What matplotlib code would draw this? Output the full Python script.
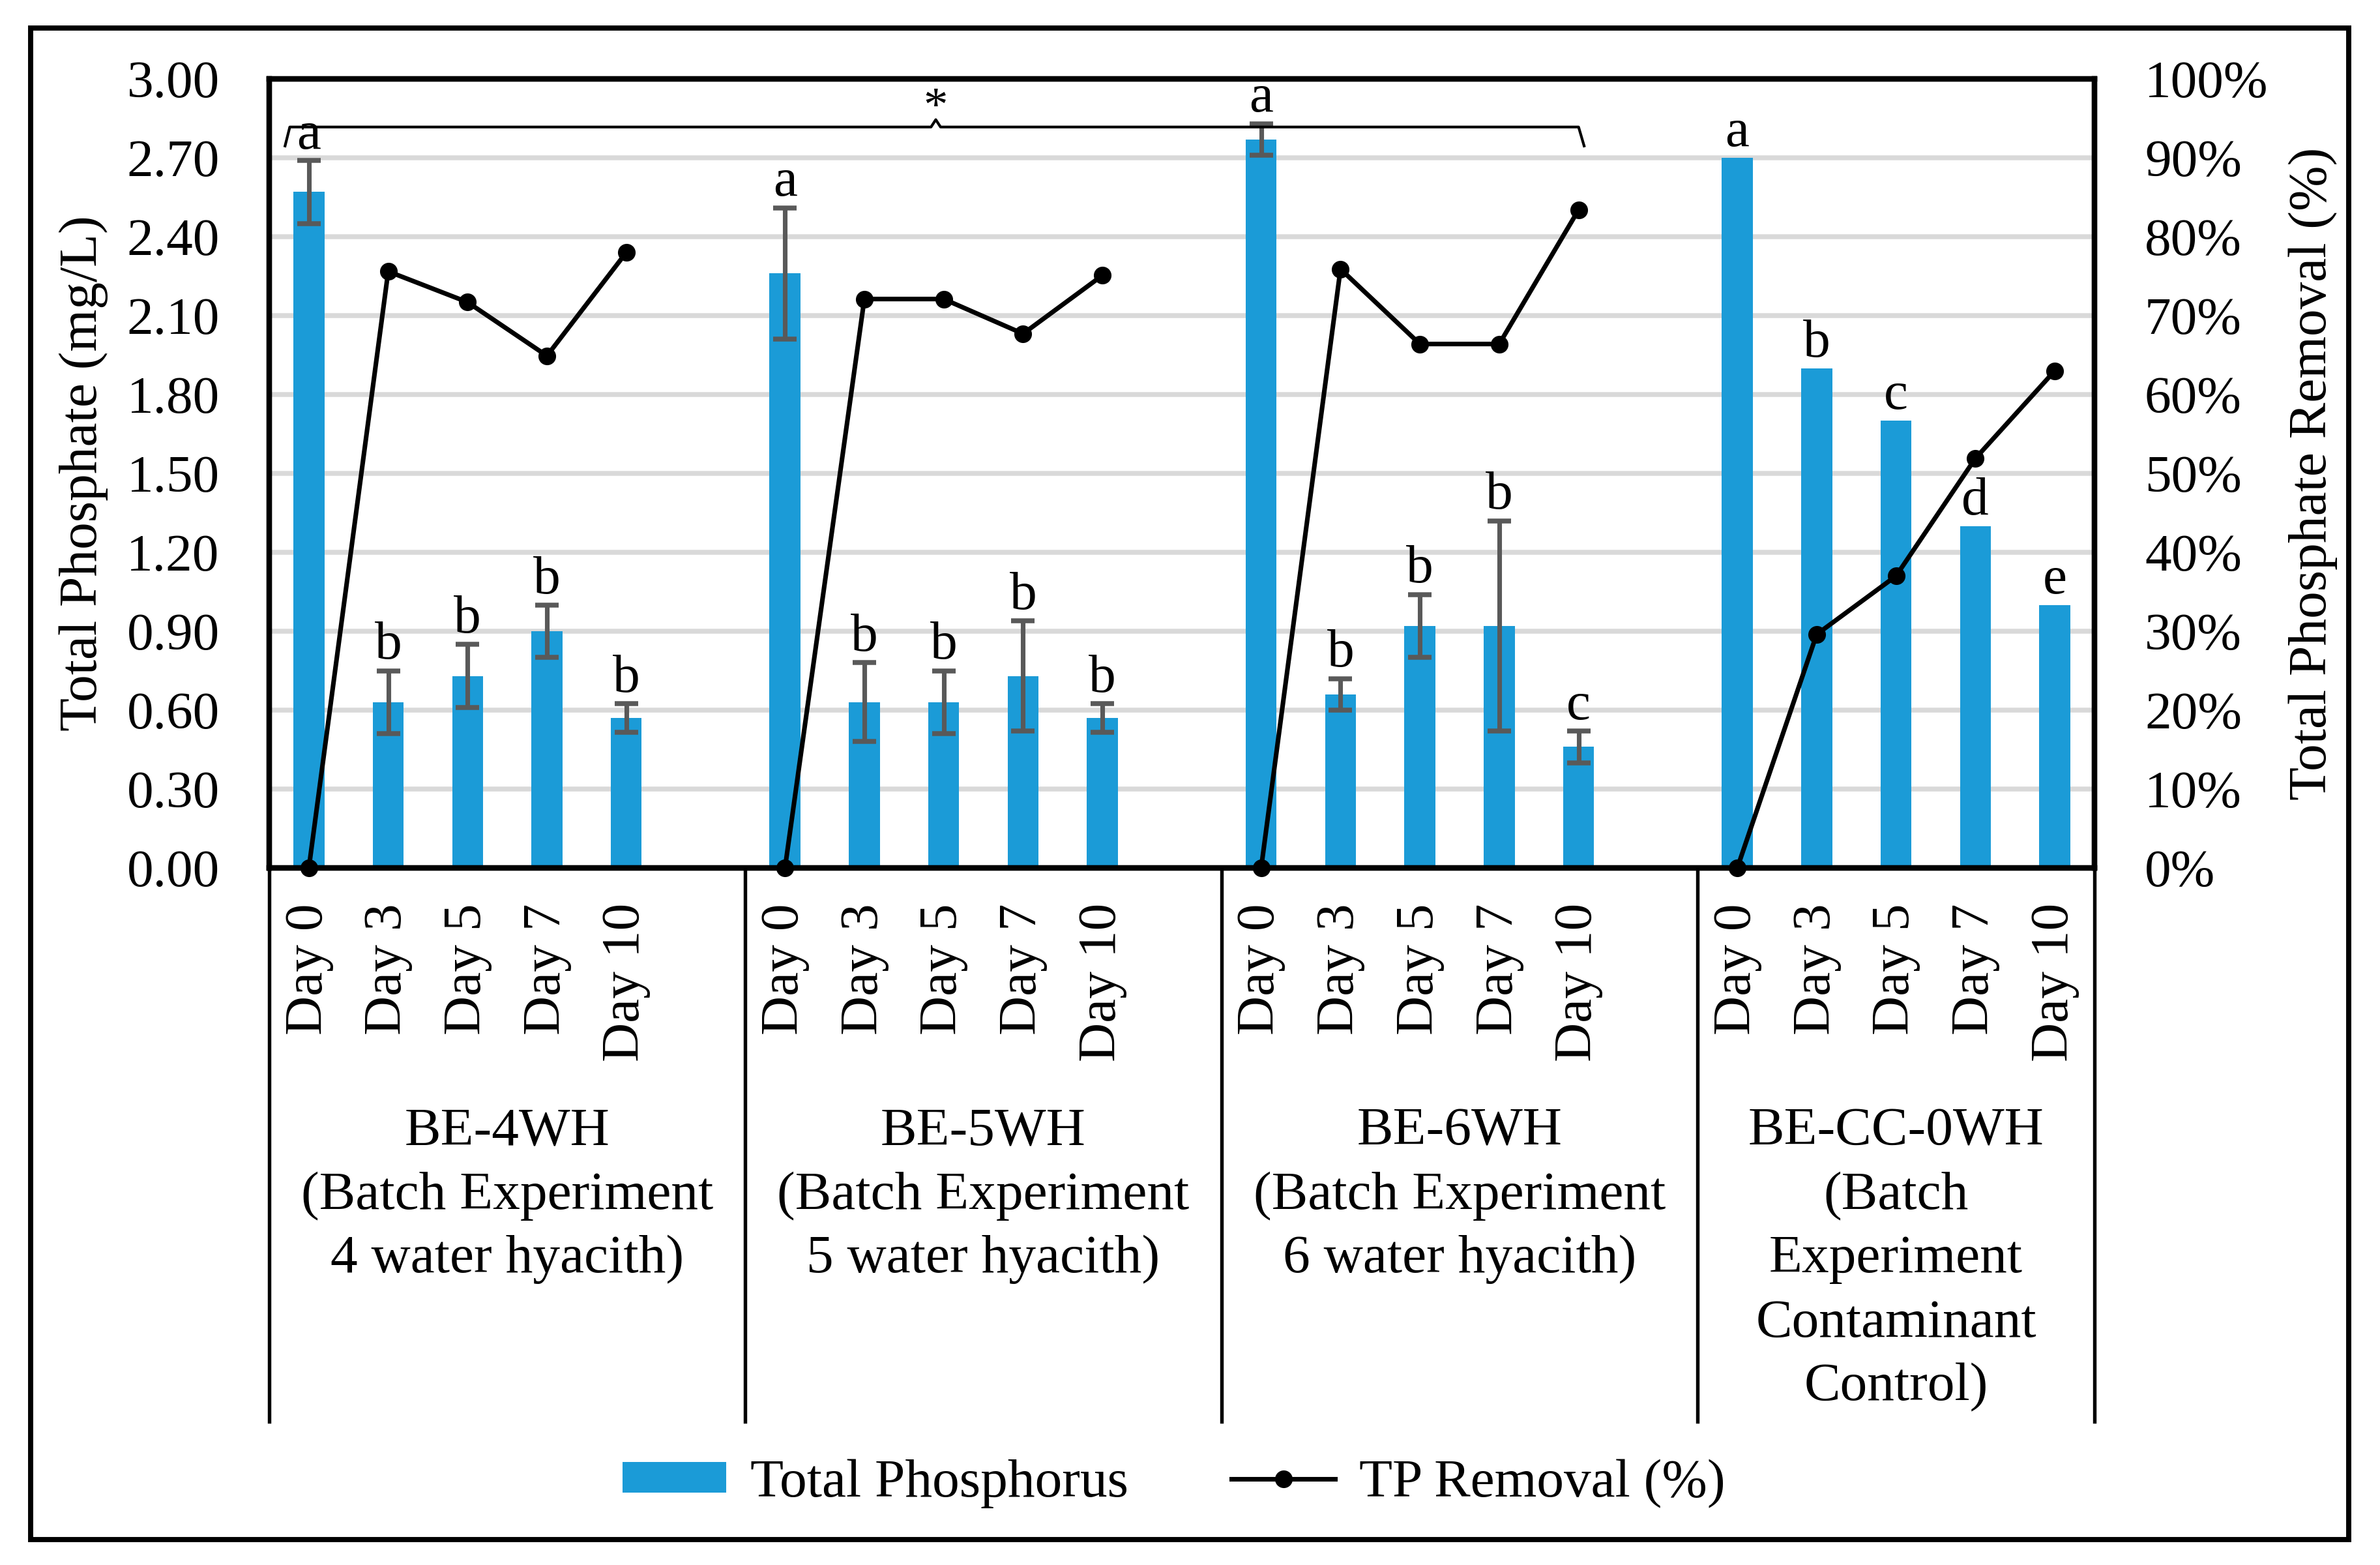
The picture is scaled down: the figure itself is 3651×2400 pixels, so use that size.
import matplotlib
matplotlib.use('Agg')
import matplotlib.pyplot as plt
from matplotlib.patches import Rectangle, Patch
from matplotlib.lines import Line2D
import numpy as np

plt.rcParams['font.family'] = ['Liberation Serif', 'DejaVu Serif']

# ---------------- data ----------------
days = ["Day 0", "Day 3", "Day 5", "Day 7", "Day 10"]
group_labels = [
    ["BE-4WH", "(Batch Experiment", "4 water hyacith)"],
    ["BE-5WH", "(Batch Experiment", "5 water hyacith)"],
    ["BE-6WH", "(Batch Experiment", "6 water hyacith)"],
    ["BE-CC-0WH", "(Batch", "Experiment", "Contaminant", "Control)"],
]
tp_be4 = [2.57, 0.63, 0.73, 0.90, 0.57]
tp_be5 = [2.26, 0.63, 0.63, 0.73, 0.57]
tp_be6 = [2.77, 0.66, 0.92, 0.92, 0.46]
tp_cc = [2.70, 1.90, 1.70, 1.30, 1.00]
err_be4 = [0.12, 0.12, 0.12, 0.10, 0.055]
err_be5 = [0.25, 0.15, 0.12, 0.21, 0.055]
err_be6 = [0.06, 0.06, 0.12, 0.40, 0.06]
err_cc = [0, 0, 0, 0, 0]
rem_be4 = [0, 75.6, 71.7, 64.9, 78.0]
rem_be5 = [0, 72.1, 72.1, 67.7, 75.1]
rem_be6 = [0, 75.9, 66.4, 66.4, 83.4]
rem_cc = [0, 29.6, 37.0, 51.9, 63.0]
let_be4 = ["a", "b", "b", "b", "b"]
let_be5 = ["a", "b", "b", "b", "b"]
let_be6 = ["a", "b", "b", "b", "c"]
let_cc = ["a", "b", "c", "d", "e"]

tp_values = [tp_be4, tp_be5, tp_be6, tp_cc]
tp_errors = [err_be4, err_be5, err_be6, err_cc]
removal = [rem_be4, rem_be5, rem_be6, rem_cc]
letters = [let_be4, let_be5, let_be6, let_cc]

yticks_left = [0.00, 0.30, 0.60, 0.90, 1.20, 1.50, 1.80, 2.10, 2.40, 2.70, 3.00]
yticks_right = [0.0, 0.1, 0.2, 0.3, 0.4, 0.5, 0.6, 0.7, 0.8, 0.9, 1.0]

# ---------------- style ----------------
BLUE = '#1B9BD7'
ERR = '#595959'
FS = 20

fig = plt.figure(figsize=(12.17, 8.0), dpi=300)
ax = fig.add_axes([0.1131, 0.4454, 0.8800 - 0.1131, 0.9496 - 0.4454])
ax2 = ax.twinx()

slot = 6  # 5 days + 1 blank category per group
all_x, all_lab = [], []
for g in range(4):
    x = np.arange(len(days)) + slot * g
    vals = np.array(tp_values[g])
    errs = np.array(tp_errors[g])
    ax.bar(x, vals, width=0.39, color=BLUE, zorder=2)
    if np.any(errs > 0):
        ax.errorbar(x, vals, yerr=errs, fmt='none', ecolor=ERR,
                    elinewidth=1.7, capsize=4.4, capthick=1.8, zorder=3)
    for xi, v, e, l in zip(x, vals, errs, letters[g]):
        ax.text(xi, v + e + 0.045, l, ha='center', va='baseline',
                fontsize=FS, zorder=6)
    ax2.plot(x, np.array(removal[g]) / 100.0, color='black', lw=1.7,
             marker='o', ms=5.5, clip_on=False, zorder=5)
    all_x.extend(x)
    all_lab.extend(days)

ax.set_xlim(-0.5, 22.5)
ax.set_ylim(0, 3.0)
ax.set_yticks(yticks_left)
ax.set_yticklabels([f"{v:.2f}" for v in yticks_left])
ax.set_xticks(all_x)
ax.set_xticklabels(all_lab, rotation=90)
ax.yaxis.grid(True, color='#d9d9d9', lw=1.8)
ax.set_axisbelow(True)
ax.tick_params(axis='y', length=0, pad=18.3, labelsize=19.5)
ax.tick_params(axis='x', length=0, pad=13, labelsize=FS)

ax2.set_ylim(0, 1.0)
ax2.set_yticks(yticks_right)
ax2.set_yticklabels([f"{int(round(v * 100))}%" for v in yticks_right])
ax2.tick_params(axis='y', length=0, pad=18.5, labelsize=19.5)

for a in (ax, ax2):
    for s in a.spines.values():
        s.set_linewidth(2.0)
        s.set_color('black')

# significance bracket
bx = [-0.30, -0.24, 7.84, 7.90, 7.96, 16.0, 16.07]
by = [2.745, 2.817, 2.817, 2.845, 2.817, 2.817, 2.745]
ax.plot(bx, by, color='black', lw=1.0, clip_on=False, zorder=4)
ax.text(7.90, 2.84, "*", ha='center', va='baseline', fontsize=18, zorder=6)

# group dividers and labels
xtr = ax.get_xaxis_transform()
for xd in [-0.5, 5.5, 11.5, 17.5, 22.5]:
    ax.plot([xd, xd], [0, -0.7017], transform=xtr, color='black', lw=1.3,
            clip_on=False)
group_centers = [2.5, 8.5, 14.5, 20.0]
line_y = [-0.3347, -0.4161, -0.4959, -0.5774, -0.6586]
for gc, labs in zip(group_centers, group_labels):
    for yy, t in zip(line_y, labs):
        ax.text(gc, yy, t, transform=xtr, ha='center', va='center',
                fontsize=FS)

# axis titles
yc = (0.4454 + 0.9496) / 2
fig.text(128 / 3651, yc, "Total Phosphate (mg/L)", rotation=90,
         ha='center', va='center', fontsize=FS)
fig.text(3548 / 3651, yc, "Total Phosphate Removal (%)", rotation=90,
         ha='center', va='center', fontsize=FS)

# legend
handles = [Patch(facecolor=BLUE, edgecolor='none'),
           Line2D([], [], color='black', lw=1.7, marker='o', ms=5.5)]
fig.legend(handles, ["Total Phosphorus", "TP Removal (%)"], loc='center',
           bbox_to_anchor=(0.4933, 0.052), ncol=2, frameon=False,
           fontsize=FS, handlelength=1.9, handleheight=0.5,
           handletextpad=0.45, columnspacing=1.9)

# outer border
fig.add_artist(Rectangle((0.013, 0.0164), 0.9869 - 0.013, 0.9819 - 0.0164,
                         transform=fig.transFigure, fill=False, lw=1.9,
                         edgecolor='black'))

fig.savefig('out.png', dpi=300)
